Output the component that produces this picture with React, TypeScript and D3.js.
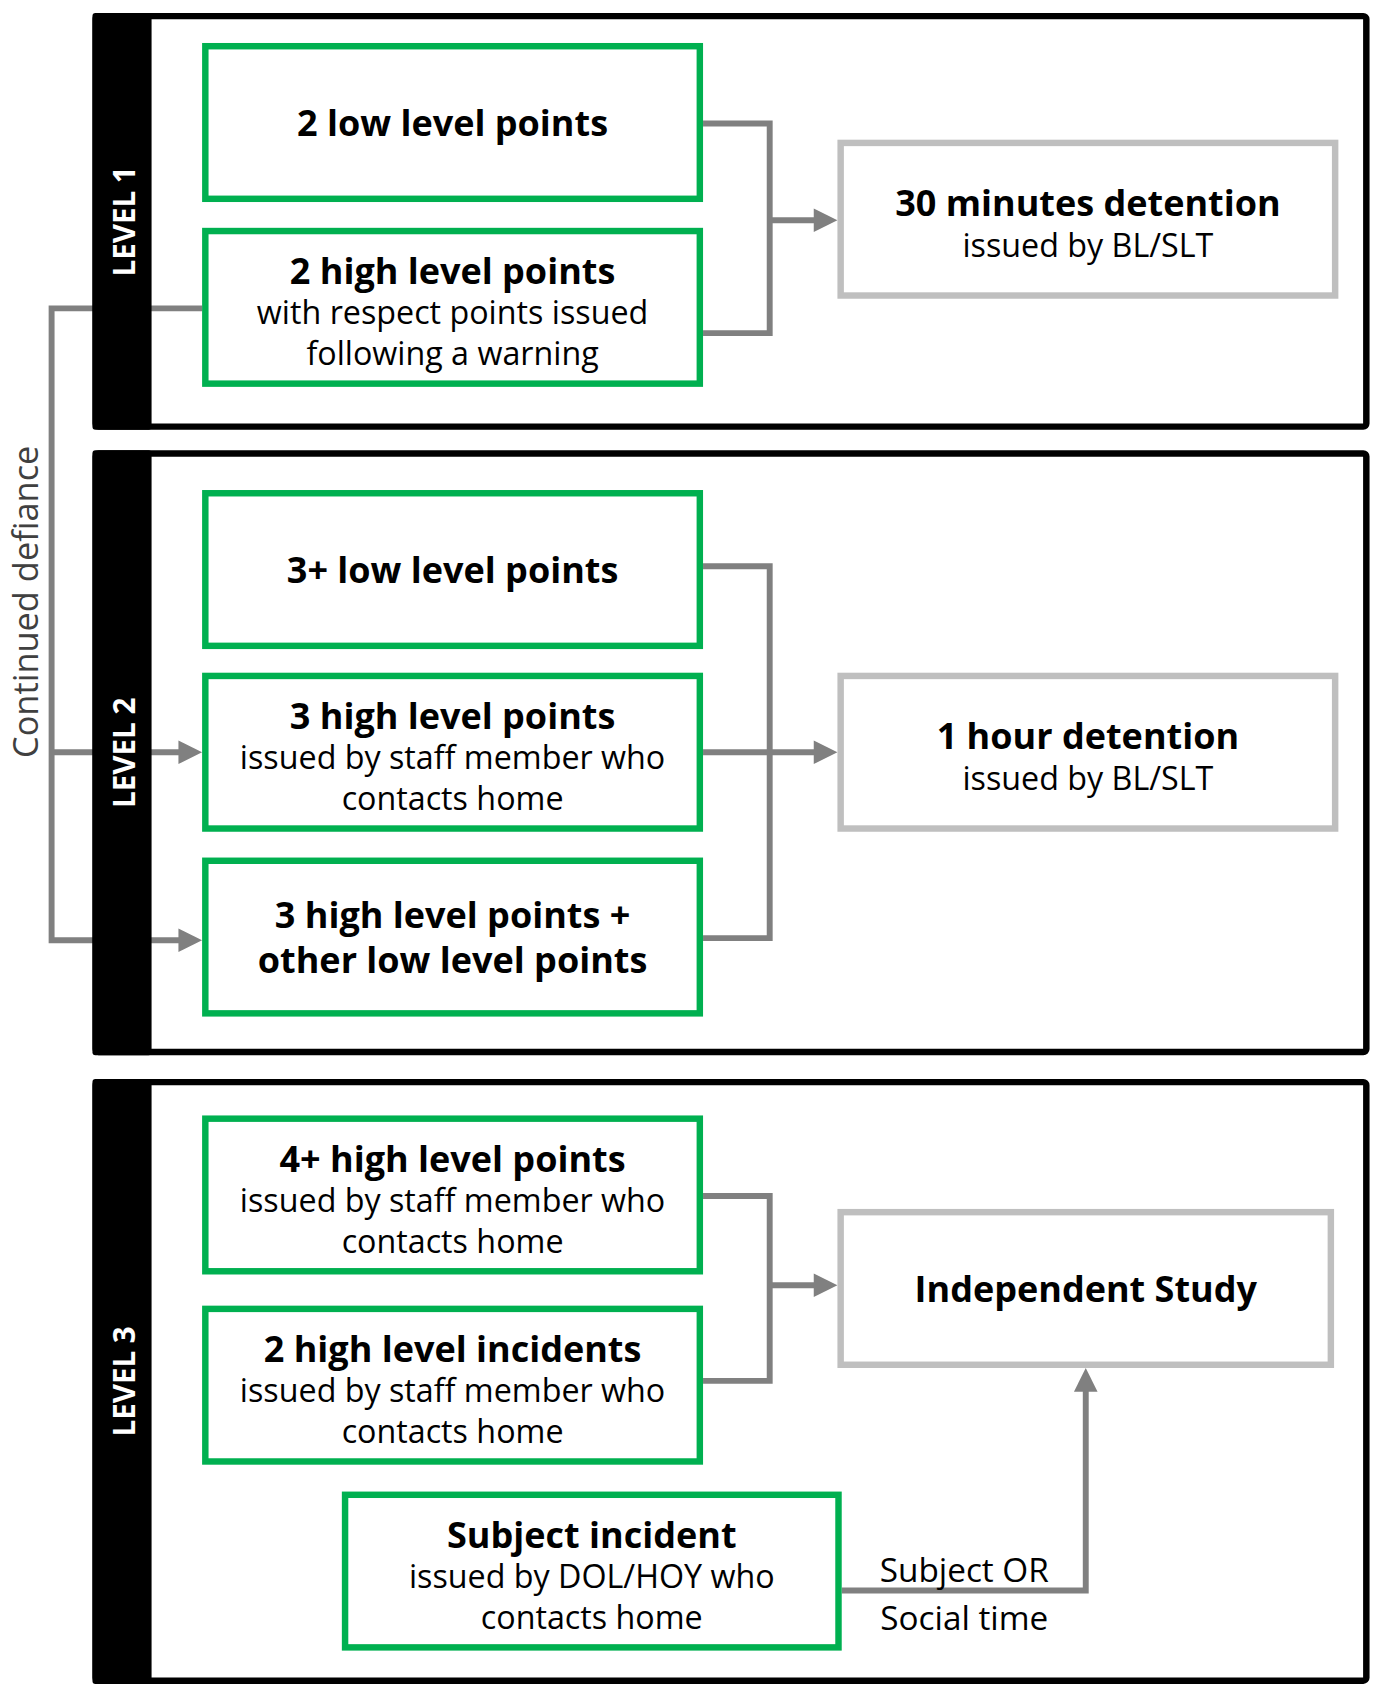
import React from 'react';
import * as d3 from 'd3';

// flowchart content
const levelLabels = ['LEVEL 1', 'LEVEL 2', 'LEVEL 3'];
const triggerTitles = [
  ['2 low level points'],
  ['2 high level points'],
  ['3+ low level points'],
  ['3 high level points'],
  ['3 high level points +', 'other low level points'],
  ['4+ high level points'],
  ['2 high level incidents'],
  ['Subject incident'],
];
const triggerNotes = [
  [],
  ['with respect points issued', 'following a warning'],
  [],
  ['issued by staff member who', 'contacts home'],
  [],
  ['issued by staff member who', 'contacts home'],
  ['issued by staff member who', 'contacts home'],
  ['issued by DOL/HOY who', 'contacts home'],
];
const outcomeTitles = ['30 minutes detention', '1 hour detention', 'Independent Study'];
const outcomeNotes = ['issued by BL/SLT', 'issued by BL/SLT', ''];
const sideLabel = 'Continued defiance';
const routeLabels = ['Subject OR', 'Social time'];

const W = 1376;
const H = 1685;
// reference was laid out on a 1280 x 1568 grid
const sx = d3.scaleLinear().domain([0, 1280]).range([0, W]);
const sy = d3.scaleLinear().domain([0, 1568]).range([0, H]);
const k = W / 1280;

const GREEN = '#00b050';
const LIGHT = '#bfbfbf';
const LINK = '#808080';
const FONT = "'Century Gothic', 'Open Sans', sans-serif";

// layout (grid units)
const panelY = [[12, 400], [419, 982], [1004, 1567]];
const panelX = [86, 1274];
const bandW = 55;
const triggerX = [[188, 654], [188, 654], [188, 654], [188, 654], [188, 654], [188, 654], [188, 654], [318, 783]];
const triggerY = [[40, 188], [212, 360], [456, 604], [626, 774], [798, 946], [1038, 1186], [1215, 1363], [1388, 1536]];
const outcomeX = [[779, 1245], [779, 1245], [779, 1241]];
const outcomeY = [[130, 278], [626, 774], [1125, 1273]];

const line = d3.line<[number, number]>().x(d => sx(d[0])).y(d => sy(d[1]));

const Arrow = ({ pts }: { pts: [number, number][] }) => {
  // last point is the arrow tip; shorten the line so the head sits on it
  const n = pts.length;
  const [x1, y1] = pts[n - 2];
  const [x2, y2] = pts[n - 1];
  const len = Math.hypot(x2 - x1, y2 - y1);
  const ux = (x2 - x1) / len;
  const uy = (y2 - y1) / len;
  const head = 22;
  const half = 11;
  const bx = x2 - ux * head;
  const by = y2 - uy * head;
  const shaft = [...pts.slice(0, n - 1), [bx + ux * 2, by + uy * 2]] as [number, number][];
  const tri = [[x2, y2], [bx - uy * half, by + ux * half], [bx + uy * half, by - ux * half]]
    .map(p => `${sx(p[0])},${sy(p[1])}`).join(' ');
  return (
    <g>
      <path d={line(shaft) || ''} fill="none" stroke={LINK} strokeWidth={5.5 * k} />
      <polygon points={tri} fill={LINK} />
    </g>
  );
};

const Link = ({ pts }: { pts: [number, number][] }) => (
  <path d={line(pts) || ''} fill="none" stroke={LINK} strokeWidth={5.5 * k} />
);

const BoxText = ({ cx, cy, titles, notes }: { cx: number; cy: number; titles: string[]; notes: string[] }) => {
  const rows = [
    ...titles.map(t => ({ t, bold: true })),
    ...notes.map(t => ({ t, bold: false })),
  ];
  const step = titles.length > 1 ? 42 : rows.length === 2 ? 39 : 38;
  const top = cy - ((rows.length - 1) * step) / 2 + (notes.length ? 4 : 0);
  return (
    <g>
      {rows.map((r, i) => (
        <text
          key={i}
          x={sx(cx)}
          y={sy(top + i * step)}
          textAnchor="middle"
          dominantBaseline="central"
          fontFamily={FONT}
          fontWeight={r.bold ? 700 : 400}
          fontSize={(r.bold ? 33.5 : 30) * k}
          fill="#000"
        >
          {r.t}
        </text>
      ))}
    </g>
  );
};

const App = () => {
  const sw = 6;
  return (
    <svg width={W} height={H} style={{ position: 'absolute', left: 0, top: 0, background: '#fff' }}>
      {/* connectors behind everything */}
      <Link pts={[[188, 287], [48, 287], [48, 875], [100, 875]]} />
      <Arrow pts={[[100, 875], [188, 875]]} />
      <Arrow pts={[[48, 700], [188, 700]]} />

      <Link pts={[[654, 115], [716, 115], [716, 310], [654, 310]]} />
      <Arrow pts={[[716, 205], [779, 205]]} />
      <Link pts={[[654, 527], [716, 527], [716, 873], [654, 873]]} />
      <Arrow pts={[[654, 700], [779, 700]]} />
      <Link pts={[[654, 1113], [716, 1113], [716, 1285], [654, 1285]]} />
      <Arrow pts={[[716, 1196], [779, 1196]]} />
      <Arrow pts={[[783, 1480], [1010, 1480], [1010, 1273]]} />

      {/* level panels */}
      {panelY.map(([y0, y1], i) => (
        <g key={i}>
          <rect
            x={sx(panelX[0] + sw / 2)}
            y={sy(y0 + sw / 2)}
            width={sx(panelX[1] - panelX[0] - sw)}
            height={sy(y1 - y0 - sw)}
            fill="none"
            stroke="#000"
            strokeWidth={sw * k}
            rx={3}
          />
          <rect x={sx(panelX[0])} y={sy(y0)} width={sx(bandW)} height={sy(y1 - y0)} fill="#000" rx={3} />
          <text
            transform={`translate(${sx(panelX[0] + bandW / 2 + 1)},${sy((y0 + y1) / 2)}) rotate(-90)`}
            textAnchor="middle"
            dominantBaseline="central"
            fontFamily={FONT}
            fontWeight={700}
            fontSize={27.5 * k}
            fill="#fff"
          >
            {levelLabels[i]}
          </text>
        </g>
      ))}

      {/* trigger boxes */}
      {triggerTitles.map((titles, i) => {
        const [x0, x1] = triggerX[i];
        const [y0, y1] = triggerY[i];
        return (
          <g key={i}>
            <rect
              x={sx(x0 + sw / 2)}
              y={sy(y0 + sw / 2)}
              width={sx(x1 - x0 - sw)}
              height={sy(y1 - y0 - sw)}
              fill="#fff"
              stroke={GREEN}
              strokeWidth={sw * k}
            />
            <BoxText cx={(x0 + x1) / 2} cy={(y0 + y1) / 2} titles={titles} notes={triggerNotes[i]} />
          </g>
        );
      })}

      {/* outcome boxes */}
      {outcomeTitles.map((t, i) => {
        const [x0, x1] = outcomeX[i];
        const [y0, y1] = outcomeY[i];
        return (
          <g key={i}>
            <rect
              x={sx(x0 + sw / 2)}
              y={sy(y0 + sw / 2)}
              width={sx(x1 - x0 - sw)}
              height={sy(y1 - y0 - sw)}
              fill="#fff"
              stroke={LIGHT}
              strokeWidth={sw * k}
            />
            <BoxText
              cx={(x0 + x1) / 2}
              cy={(y0 + y1) / 2}
              titles={[t]}
              notes={outcomeNotes[i] ? [outcomeNotes[i]] : []}
            />
          </g>
        );
      })}

      {/* side and route labels */}
      <text
        transform={`translate(${sx(23)},${sy(560)}) rotate(-90)`}
        textAnchor="middle"
        dominantBaseline="central"
        fontFamily={FONT}
        fontSize={32 * k}
        fill="#404040"
      >
        {sideLabel}
      </text>
      {routeLabels.map((t, i) => (
        <text
          key={t}
          x={sx(897)}
          y={sy(1460 + i * 45)}
          textAnchor="middle"
          dominantBaseline="central"
          fontFamily={FONT}
          fontSize={31 * k}
          fill="#000"
        >
          {t}
        </text>
      ))}
    </svg>
  );
};

export default App;
